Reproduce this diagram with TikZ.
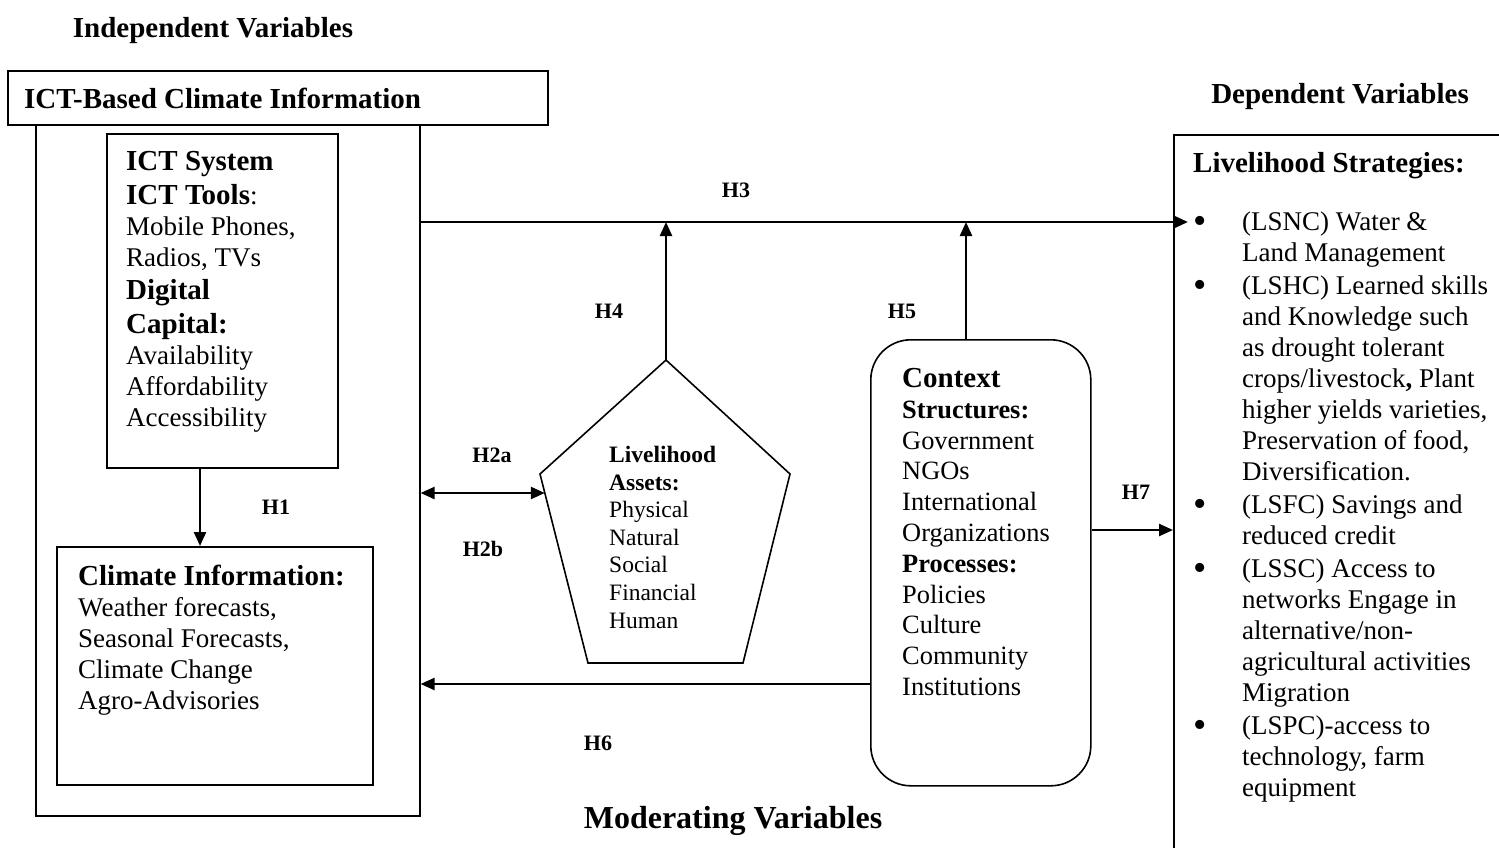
\documentclass[tikz,border=0pt]{standalone}
\usepackage{fontspec}
\setmainfont{Liberation Serif}
\usetikzlibrary{arrows.meta,calc}
\newcommand\fsz[2]{\fontsize{#1}{#2}\selectfont}
\newcommand\stratbullet{\makebox[49pt][l]{\raisebox{-3pt}{\fsz{38}{31}\textbullet}}}
\newcommand\stratindent{\hspace*{49pt}}

\begin{document}
\begin{tikzpicture}[x=1pt,y=-1pt,
  frame/.style={draw, line width=1.6pt, inner sep=0pt},
  txt/.style={anchor=north west, align=left, inner sep=0pt},
  hyp/.style={font=\fsz{22}{24}\bfseries, inner sep=0pt},
  tip/.tip={Triangle[length=14pt,width=12pt]},
  link/.style={line width=2.4pt, -tip},
  heading/.style={font=\fsz{29}{32}\bfseries, inner sep=0pt}
]
\useasboundingbox (0,0) rectangle (1499,847);
\fill[white] (0,0) rectangle (1499,847);

% column headings
\node[heading] (indep) at (213,31) {Independent Variables};
\node[heading] (dep) at (1340,97) {Dependent Variables};
\node[font=\fsz{32}{36}\bfseries, inner sep=0pt] (moder) at (733,821) {Moderating Variables};

% independent block
\node[frame, anchor=north west, minimum width=540pt, minimum height=54pt] (title) at (7,70) {};
\node[heading, anchor=west] (titletext) at (24,98) {ICT-Based Climate Information};
\node[frame, anchor=north west, minimum width=384pt, minimum height=691pt] (outer) at (35,124) {};

\node[frame, anchor=north west, minimum width=231pt, minimum height=334pt] (ict) at (106,133) {};
\node[txt, font=\fsz{27}{31}] (icttext) at (126,151)
  {{\fsz{29}{31}\bfseries ICT System}\\[3pt]
   {\fsz{29}{31}\bfseries ICT Tools}:\\
   Mobile Phones,\\
   Radios, TVs\\[2pt]
   {\fsz{29}{31}\bfseries Digital}\\[3pt]
   {\fsz{29}{31}\bfseries Capital:}\\
   Availability\\
   Affordability\\
   Accessibility};

\node[frame, anchor=north west, minimum width=316pt, minimum height=238pt] (climate) at (56,546) {};
\node[txt, font=\fsz{27}{31}] (climatetext) at (78,565)
  {{\fsz{29}{31}\bfseries Climate Information:}\\
   Weather forecasts,\\
   Seasonal Forecasts,\\
   Climate Change\\
   Agro-Advisories};

\coordinate (h1x) at (200,500);
\draw[link] (ict.south -| h1x) -- (climate.north -| h1x);
\node[hyp] (h1) at (276,507) {H1};

% livelihood assets pentagon
\coordinate (ptop) at (666,360);
\coordinate (pul) at (540,474);
\coordinate (pur) at (790,474);
\coordinate (pbl) at (588,663);
\coordinate (pbr) at (743,663);
\draw[line width=1.6pt] (ptop) -- (pur) -- (pbr) -- (pbl) -- (pul) -- cycle;
\node[txt, font=\fsz{23.5}{27.6}] (assets) at (609,446)
  {\textbf{Livelihood}\\
   \textbf{Assets:}\\
   Physical\\
   Natural\\
   Social\\
   Financial\\
   Human};

% context box
\node[frame, rounded corners=40pt, anchor=north west, minimum width=220pt, minimum height=446pt] (context) at (870,339) {};
\node[txt, font=\fsz{26.4}{30.8}] (contexttext) at (902,368)
  {{\fsz{29}{31}\bfseries Context}\\
   \textbf{Structures:}\\
   Government\\
   NGOs\\
   International\\
   Organizations\\
   \textbf{Processes:}\\
   Policies\\
   Culture\\
   Community\\
   Institutions};

% dependent block
\node[frame, anchor=north west, minimum width=360pt, minimum height=760pt] (stratbox) at (1173,134) {};
\node[heading, anchor=west] (strathead) at (1193,166) {Livelihood Strategies:};
\node[txt, font=\fsz{27}{31}] (strattext) at (1193,212)
  {\stratbullet(LSNC) Water \&\\
   \stratindent Land Management\\[2pt]
   \stratbullet(LSHC) Learned skills\\
   \stratindent and Knowledge such\\
   \stratindent as drought tolerant\\
   \stratindent crops/livestock\textbf{,} Plant\\
   \stratindent higher yields varieties,\\
   \stratindent Preservation of food,\\
   \stratindent Diversification.\\[2pt]
   \stratbullet(LSFC) Savings and\\
   \stratindent reduced credit\\[2pt]
   \stratbullet(LSSC) Access to\\
   \stratindent networks Engage in\\
   \stratindent alternative/non-\\
   \stratindent agricultural activities\\
   \stratindent Migration\\[2pt]
   \stratbullet(LSPC)-access to\\
   \stratindent technology, farm\\
   \stratindent equipment};

% hypothesised links
\coordinate (h3y) at (0,222);
\coordinate (h3end) at (1188,222);
\draw[link, line width=2.8pt] (outer.east |- h3y) -- (h3end);
\node[hyp] (h3) at (736,190) {H3};

\draw[link] (ptop) -- (ptop |- h3y);
\node[hyp] (h4) at (609,311) {H4};

\coordinate (h5x) at (966,0);
\draw[link] (context.north -| h5x) -- (h5x |- h3y);
\node[hyp] (h5) at (902,311) {H5};

\coordinate (h2end) at ($(pul)!0.1005!(pbl)$);
\draw[line width=2.4pt, tip-tip] (outer.east |- h2end) -- (h2end);
\node[hyp] (h2a) at (492,455) {H2a};
\node[hyp] (h2b) at (483,549) {H2b};

\coordinate (h6y) at (0,684);
\draw[link] (context.west |- h6y) -- (outer.east |- h6y);
\node[hyp] (h6) at (598,743) {H6};

\coordinate (h7y) at (0,530);
\draw[link] (context.east |- h7y) -- (stratbox.west |- h7y);
\node[hyp] (h7) at (1136,492) {H7};
\end{tikzpicture}
\end{document}
